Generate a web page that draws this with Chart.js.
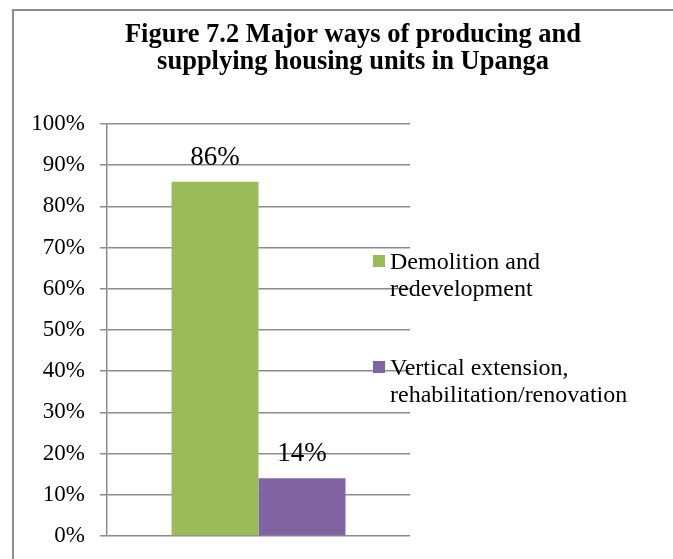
<!DOCTYPE html>
<html>
<head>
<meta charset="utf-8">
<script src="https://cdn.jsdelivr.net/npm/chart.js@4/dist/chart.umd.min.js"></script>
<style>
  html, body { margin: 0; padding: 0; background: #fff; }
  #wrap { width: 673px; height: 559px; position: relative; }
</style>
</head>
<body>
<div id="wrap"><canvas id="c"></canvas></div>
<script>
// Figure 7.2 – shares of housing supply modes in Upanga
const titleLines = ['Figure 7.2 Major ways of producing and', 'supplying housing units in Upanga'];
const categories = [''];
const seriesNames = [
  ['Demolition and', 'redevelopment'],
  ['Vertical extension,', 'rehabilitation/renovation']
];
const demolitionValues = [86];
const extensionValues = [14];
const seriesColors = ['#9BBB59', '#8064A2'];
const yTicks = [0, 10, 20, 30, 40, 50, 60, 70, 80, 90, 100];

const SERIF = '"Liberation Serif", "Times New Roman", serif';
const GRID = '#8c8c8c';

// Outer frame (left and top edges) and the two-line heading
const framePlugin = {
  id: 'frame',
  beforeDraw(chart) {
    const ctx = chart.ctx;
    ctx.save();
    ctx.strokeStyle = GRID;
    ctx.lineWidth = 2;
    ctx.beginPath();
    ctx.moveTo(13, chart.height);
    ctx.lineTo(13, 10);
    ctx.lineTo(chart.width, 10);
    ctx.stroke();

    ctx.fillStyle = '#000';
    ctx.font = 'bold 26.5px ' + SERIF;
    ctx.textAlign = 'center';
    ctx.textBaseline = 'alphabetic';
    const baselines = [42, 69];
    titleLines.forEach((line, i) => ctx.fillText(line, 353, baselines[i]));
    ctx.restore();
  }
};

// Value labels above each bar
const valueLabels = {
  id: 'valueLabels',
  afterDatasetsDraw(chart) {
    const ctx = chart.ctx;
    ctx.save();
    ctx.font = '27px ' + SERIF;
    ctx.fillStyle = '#000';
    ctx.textAlign = 'center';
    ctx.textBaseline = 'alphabetic';
    chart.data.datasets.forEach((ds, i) => {
      const meta = chart.getDatasetMeta(i);
      meta.data.forEach((bar, j) => {
        ctx.fillText(ds.data[j] + '%', bar.x, bar.y - 17);
      });
    });
    ctx.restore();
  }
};

// Right-hand legend with wrapped series names
const sideLegend = {
  id: 'sideLegend',
  afterDraw(chart) {
    const ctx = chart.ctx;
    const x = chart.chartArea.right - 37;
    const tops = [255, 361];
    const lineGap = 27;
    ctx.save();
    ctx.font = '24px ' + SERIF;
    ctx.textBaseline = 'middle';
    ctx.textAlign = 'left';
    chart.data.datasets.forEach((ds, i) => {
      const top = tops[i];
      ctx.fillStyle = ds.backgroundColor;
      ctx.fillRect(x, top, 12, 12);
      ctx.fillStyle = '#000';
      seriesNames[i].forEach((line, k) => {
        ctx.fillText(line, x + 17, top + 8 + k * lineGap);
      });
    });
    ctx.restore();
  }
};

new Chart(document.getElementById('c'), {
  type: 'bar',
  data: {
    labels: categories,
    datasets: [
      { label: seriesNames[0].join(' '), data: demolitionValues, backgroundColor: seriesColors[0] },
      { label: seriesNames[1].join(' '), data: extensionValues, backgroundColor: seriesColors[1] }
    ]
  },
  options: {
    responsive: true,
    maintainAspectRatio: false,
    animation: false,
    events: [],
    categoryPercentage: 0.574,
    barPercentage: 1,
    layout: { padding: { left: 31, right: 263, top: 124, bottom: 23 } },
    plugins: {
      legend: { display: false },
      tooltip: { enabled: false },
      title: { display: false }
    },
    scales: {
      x: { display: false },
      y: {
        min: 0,
        max: 100,
        afterFit(scale) {
          scale.width = 76;
          scale.paddingTop = 0;
          scale.paddingBottom = 0;
        },
        afterBuildTicks(scale) { scale.ticks = yTicks.map(v => ({ value: v })); },
        ticks: {
          color: '#000',
          padding: 15,
          font: { family: SERIF, size: 23 },
          callback: v => v + '%'
        },
        grid: { color: GRID, lineWidth: 1.5, tickLength: 7 },
        border: { display: true, color: GRID, width: 1.5 }
      }
    }
  },
  plugins: [framePlugin, valueLabels, sideLegend]
});
</script>
</body>
</html>
